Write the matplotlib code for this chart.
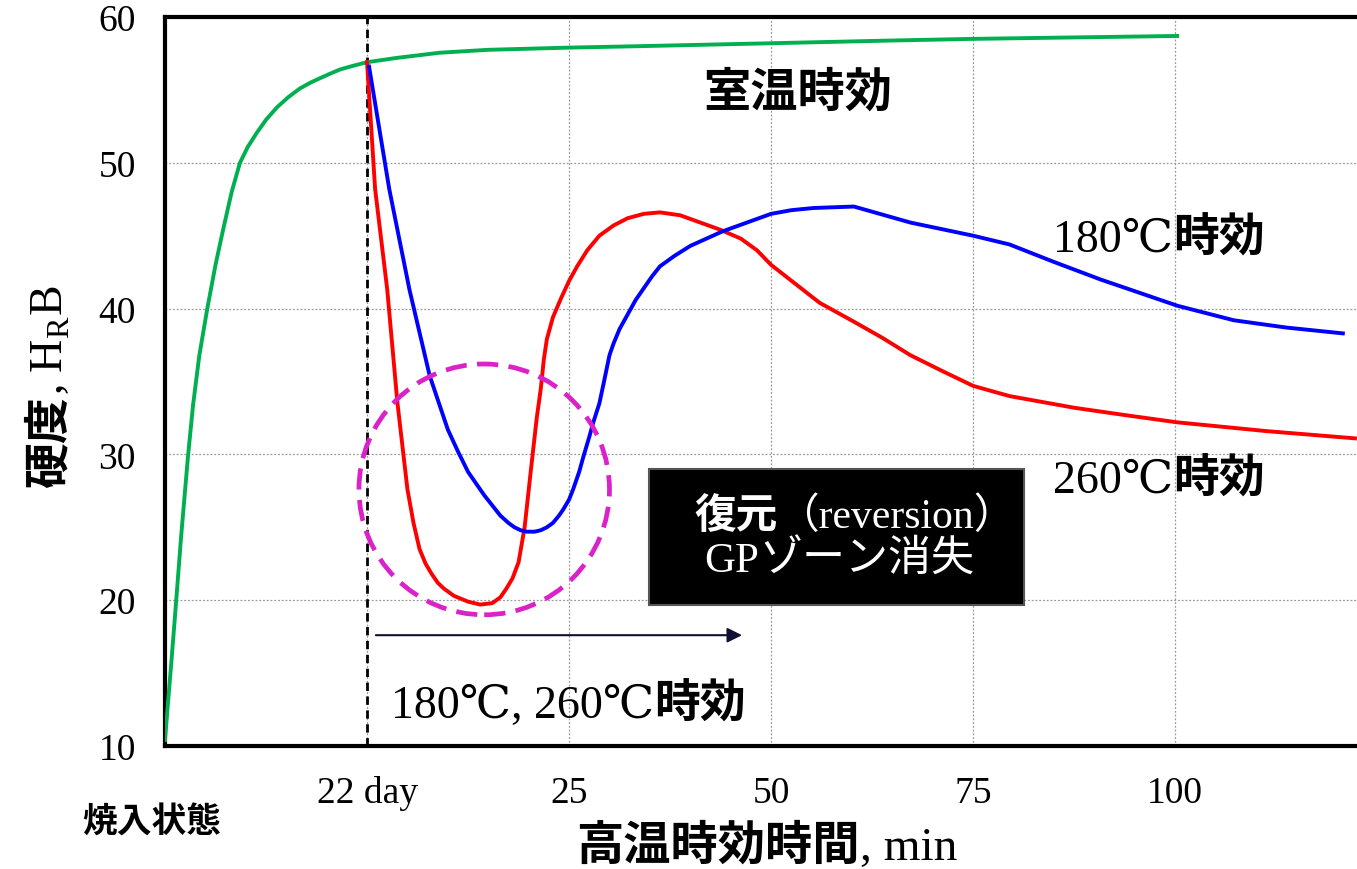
import numpy as np
import matplotlib
matplotlib.use("Agg")
import matplotlib.pyplot as plt
from matplotlib.patches import Ellipse, Rectangle

plt.rcParams['mathtext.fontset'] = 'custom'
plt.rcParams['mathtext.rm'] = 'Liberation Serif'

SERIF = ['Liberation Serif', 'DejaVu Serif', 'Noto Sans CJK JP']
GOTHIC = ['Noto Sans CJK JP', 'DejaVu Sans']

# x axis is a position scale: 0 = quenched, 1 = 22 day, 2 = 25 min, 3 = 50, 4 = 75, 5 = 100
tick_pos = [1, 2, 3, 4, 5]
tick_labels = ['22 day', '25', '50', '75', '100']

room_x = [0, 0.015, 0.03, 0.05, 0.08, 0.114, 0.139, 0.17, 0.208, 0.25, 0.289, 0.33, 0.371,
          0.41, 0.454, 0.50, 0.554, 0.61, 0.668, 0.72, 0.767, 0.815, 0.866, 0.93, 1.0,
          1.15, 1.36, 1.6, 2.0, 2.35, 3.0, 3.64, 4.0, 5.01]
room_y = [10.4, 13.0, 15.5, 19.0, 24.4, 29.9, 33.4, 36.8, 39.9, 43.0, 45.5, 48.0, 50.0,
          51.1, 52.05, 52.95, 53.8, 54.5, 55.1, 55.5, 55.8, 56.1, 56.4, 56.65, 56.9,
          57.2, 57.55, 57.75, 57.9, 58.0, 58.2, 58.4, 58.5, 58.7]

age260_x = [1.0, 1.04, 1.10, 1.15, 1.20, 1.23, 1.26, 1.29, 1.32, 1.35, 1.38, 1.43, 1.50,
            1.56, 1.62, 1.66, 1.69, 1.72, 1.75, 1.78, 1.81, 1.84, 1.86, 1.875, 1.89, 1.92,
            1.96, 2.0, 2.04, 2.09, 2.15, 2.22, 2.29, 2.37, 2.45, 2.55, 2.65, 2.75, 2.85,
            2.93, 3.0, 3.12, 3.24, 3.41, 3.55, 3.69, 3.85, 4.0, 4.18, 4.5, 4.75, 5.01,
            5.45, 5.89]
age260_y = [56.9, 48.2, 41.3, 33.6, 27.6, 25.3, 23.5, 22.5, 21.8, 21.2, 20.8, 20.3, 19.9,
            19.7, 19.8, 20.2, 20.8, 21.5, 22.6, 25.0, 28.8, 32.5, 34.5, 36.5, 37.9, 39.4,
            40.7, 41.9, 42.9, 44.0, 45.0, 45.7, 46.2, 46.5, 46.6, 46.4, 45.9, 45.4, 44.8,
            44.0, 43.0, 41.7, 40.4, 39.1, 38.0, 36.8, 35.7, 34.7, 34.0, 33.2, 32.7, 32.2,
            31.6, 31.1]

age180_x = [1.01, 1.11, 1.21, 1.31, 1.40, 1.45, 1.50, 1.58, 1.66, 1.70, 1.73, 1.76, 1.79,
            1.83, 1.86, 1.89, 1.92, 1.95, 1.97, 2.0, 2.02, 2.05, 2.07, 2.10, 2.12, 2.15,
            2.17, 2.20, 2.22, 2.25, 2.29, 2.33, 2.37, 2.41, 2.45, 2.52, 2.60, 2.68, 2.76,
            2.88, 3.0, 3.1, 3.21, 3.41, 3.69, 4.0, 4.18, 4.4, 4.63, 4.82, 5.01, 5.15,
            5.29, 5.55, 5.83]
age180_y = [56.6, 48.2, 41.3, 35.4, 31.7, 30.2, 28.8, 27.2, 25.8, 25.3, 25.0, 24.8, 24.7,
            24.7, 24.8, 25.0, 25.3, 25.8, 26.2, 26.9, 27.6, 28.8, 29.8, 31.2, 32.2, 33.5,
            34.8, 36.8, 37.6, 38.6, 39.6, 40.6, 41.4, 42.2, 42.9, 43.6, 44.3, 44.8, 45.3,
            45.9, 46.5, 46.75, 46.9, 47.0, 45.9, 45.0, 44.4, 43.2, 42.0, 41.1, 40.2, 39.7,
            39.2, 38.7, 38.3]

fig = plt.figure(figsize=(13.57, 8.70), dpi=100)
ax = fig.add_axes([165 / 1357, 1 - 747 / 870, 1 - 165 / 1357, (747 - 18) / 870])

ax.set_xlim(0, 5.9)
ax.set_ylim(10, 60)
ax.set_yticks([10, 20, 30, 40, 50, 60])
ax.set_xticks(tick_pos)
ax.set_xticklabels(tick_labels)
ax.tick_params(length=0, pad=21, labelsize=27)
for lab in ax.get_xticklabels() + ax.get_yticklabels():
    lab.set_family(SERIF)

ax.grid(True, color='#999999', linestyle=(0, (1.5, 1.5)), linewidth=0.9)
ax.set_axisbelow(True)
for side in ['left', 'bottom', 'top']:
    ax.spines[side].set_linewidth(3)
ax.spines['right'].set_visible(False)

ax.axvline(1, color='black', linestyle=(0, (3, 2)), linewidth=2, zorder=2)

ax.plot(room_x, room_y, color='#00B050', linewidth=2.8, zorder=3)
ax.plot(age260_x, age260_y, color='#FF0000', linewidth=2.8, zorder=4)
ax.plot(age180_x, age180_y, color='#0000FF', linewidth=2.8, zorder=4)

ax.add_patch(Ellipse((1.58, 27.6), 1.24, 17.2, fill=False, edgecolor='#DA22C8',
                     linewidth=3.4, linestyle=(0, (4.5, 2.2)), zorder=5))

ax.annotate('', xy=(2.87, 17.6), xytext=(1.03, 17.6),
            arrowprops=dict(arrowstyle='-|>', color='#111133', lw=1.5, mutation_scale=22))

# black reversion box
ax.add_patch(Rectangle((2.396, 19.66), 1.854, 9.34, facecolor='black', edgecolor='#555555',
                       linewidth=1.5, zorder=6))
ax.text(3.03, 25.0, '復元', family=GOTHIC, weight='bold', fontsize=30, color='white',
        ha='right', va='baseline', zorder=7)
ax.text(3.03, 25.0, '（reversion）', family=SERIF, fontsize=30, color='white',
        ha='left', va='baseline', zorder=7)
ax.text(2.94, 22.0, 'GP', family=SERIF, fontsize=31, color='white',
        ha='right', va='baseline', zorder=7)
ax.text(2.94, 22.0, 'ゾーン消失', family=GOTHIC, fontsize=31, color='white',
        ha='left', va='baseline', zorder=7)

ax.text(3.13, 54.9, '室温時効', family=GOTHIC, weight='bold', fontsize=34,
        ha='center', va='center')

ax.text(4.99, 43.96, '180℃', family=SERIF, fontsize=33, ha='right', va='baseline')
ax.text(4.99, 43.96, '時効', family=GOTHIC, weight='bold', fontsize=33, ha='left', va='baseline')
ax.text(4.99, 27.42, '260℃', family=SERIF, fontsize=33, ha='right', va='baseline')
ax.text(4.99, 27.42, '時効', family=GOTHIC, weight='bold', fontsize=33, ha='left', va='baseline')
ax.text(2.42, 12.0, '180℃, 260℃', family=SERIF, fontsize=33, ha='right', va='baseline')
ax.text(2.42, 12.0, '時効', family=GOTHIC, weight='bold', fontsize=33, ha='left', va='baseline')

# labels outside the axes, in figure pixels
fig.text(152 / 1357, 1 - 822 / 870, '焼入状態', family=GOTHIC, weight='bold', fontsize=25,
         ha='center', va='center')

fig.text(860 / 1357, 1 - 860 / 870, '高温時効時間', family=GOTHIC, weight='bold',
         fontsize=34, ha='right', va='baseline')
fig.text(860 / 1357, 1 - 860 / 870, ', min', family=SERIF, fontsize=34,
         ha='left', va='baseline')

fig.text(62 / 1357, 1 - 395 / 870, '硬度', family=GOTHIC, weight='bold', fontsize=33,
         rotation=90, rotation_mode='anchor', ha='right', va='baseline')
fig.text(62 / 1357, 1 - 395 / 870, r', H$_\mathrm{R}$B', family=SERIF, fontsize=33,
         rotation=90, rotation_mode='anchor', ha='left', va='baseline')

fig.savefig('out.png', dpi=100)
